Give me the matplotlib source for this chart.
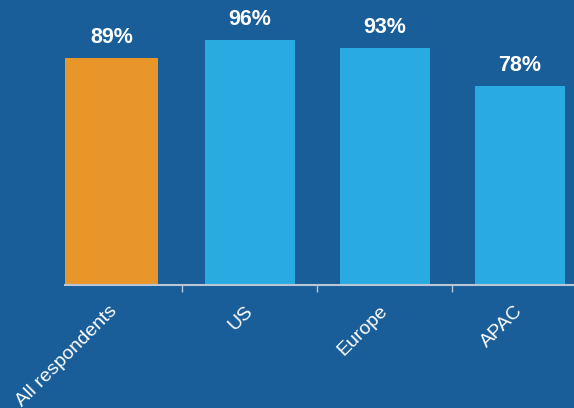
import matplotlib
matplotlib.use("Agg")
import matplotlib.pyplot as plt

categories = ["All respondents", "US", "Europe", "APAC"]
values = [89, 96, 93, 78]
labels = ["89%", "96%", "93%", "78%"]
colors = ["#e8952a", "#29abe2", "#29abe2", "#29abe2"]

BG = "#1a5e99"
fig = plt.figure(figsize=(5.74, 4.08), dpi=100, facecolor=BG)
ax = fig.add_axes([65/574, 123/408, 1 - 65/574, 285/408])
ax.set_facecolor(BG)

pos = [-0.025, 1, 2, 3]
widths = [0.69, 0.667, 0.667, 0.667]
bars = ax.bar(pos, values, width=widths, color=colors, zorder=2)

for b, lab in zip(bars, labels):
    ax.text(b.get_x() + b.get_width() / 2, b.get_height() + 4.0, lab,
            ha="center", va="bottom", color="white", fontsize=15.5,
            fontweight="bold", family="Liberation Sans")

ax.set_xlim(-0.37, 3.4)
ax.set_ylim(0, 111.9)

for s in ["top", "right", "left"]:
    ax.spines[s].set_visible(False)
ax.spines["bottom"].set_color("#b9c6d6")
ax.spines["bottom"].set_linewidth(1.5)
ax.set_yticks([])

ax.set_xticks(range(len(categories)))
ax.set_xticklabels(categories, rotation=45, ha="right", va="center",
                   rotation_mode="anchor",
                   color="white", fontsize=14, family="Liberation Sans")
ax.tick_params(axis="x", which="major", length=0, pad=17)
ax.set_xticks([0.5, 1.5, 2.5], minor=True)
ax.tick_params(axis="x", which="minor", length=5, width=1, color="#b9c6d6")

fig.savefig("out.png", dpi=100, facecolor=BG)
